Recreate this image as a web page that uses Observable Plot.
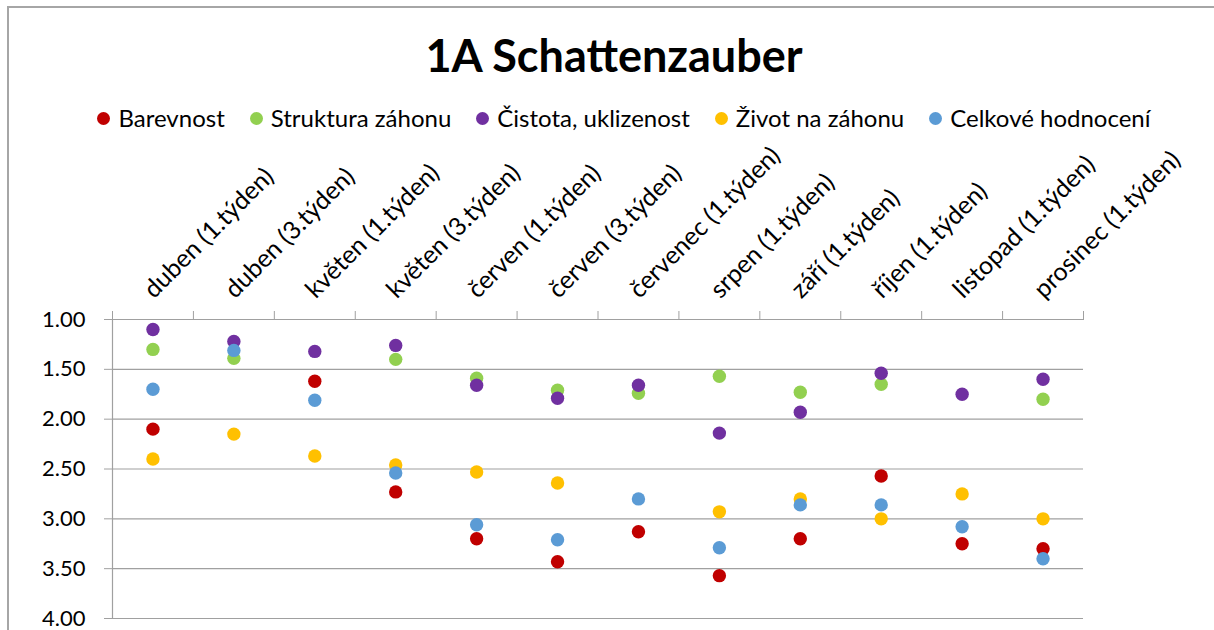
<!DOCTYPE html>
<html>
<head>
<meta charset="utf-8">
<script src="https://cdn.jsdelivr.net/npm/d3@7"></script>
<script src="https://cdn.jsdelivr.net/npm/@observablehq/plot@0.6"></script>
<style>
  html, body { margin: 0; padding: 0; width: 1214px; height: 630px; overflow: hidden; background: #fff; font-family: Lato, "Noto Sans", sans-serif; }
  #frame { position: absolute; left: 7px; top: 6px; width: 1300px; height: 700px; border-left: 2px solid #a6a6a6; border-top: 2px solid #a6a6a6; box-sizing: border-box; pointer-events: none; }
  #title { position: absolute; left: 0; top: 33px; width: 1228px; text-align: center; font-size: 45px; font-weight: bold; line-height: 1; color: #000; }
  #legend { position: absolute; left: 0; top: 103px; width: 1248px; display: flex; justify-content: center; gap: 25px; font-size: 24px; line-height: 30px; color: #000; }
  .item { display: flex; align-items: center; gap: 8px; }
  .sw { width: 13px; height: 13px; border-radius: 50%; display: inline-block; }
  #chart { position: absolute; left: 0; top: 136px; }
</style>
</head>
<body>
<div id="title">1A Schattenzauber</div>
<div id="legend"></div>
<div id="chart"></div>
<div id="frame"></div>
<script>
const categories = ["duben (1.týden)", "duben (3.týden)", "květen (1.týden)", "květen (3.týden)", "červen (1.týden)", "červen (3.týden)", "červenec (1.týden)", "srpen (1.týden)", "září (1.týden)", "říjen (1.týden)", "listopad (1.týden)", "prosinec (1.týden)"];
const series = ["Barevnost", "Struktura záhonu", "Čistota, uklizenost", "Život na záhonu", "Celkové hodnocení"];
const colors = ["#C00000", "#92D050", "#7030A0", "#FFC000", "#5B9BD5"];
const barevnost = [2.10, null, 1.62, 2.73, 3.20, 3.43, 3.13, 3.57, 3.20, 2.57, 3.25, 3.30];
const struktura = [1.30, 1.39, null, 1.40, 1.59, 1.71, 1.74, 1.57, 1.73, 1.65, null, 1.80];
const cistota = [1.10, 1.22, 1.32, 1.26, 1.66, 1.79, 1.66, 2.14, 1.93, 1.54, 1.75, 1.60];
const zivot = [2.40, 2.15, 2.37, 2.46, 2.53, 2.64, null, 2.93, 2.80, 3.00, 2.75, 3.00];
const celkove = [1.70, 1.31, 1.81, 2.54, 3.06, 3.21, 2.80, 3.29, 2.86, 2.86, 3.08, 3.40];
const yTicks = [1, 1.5, 2, 2.5, 3, 3.5, 4];

const values = [barevnost, struktura, cistota, zivot, celkove];
const rows = series.flatMap((s, k) => values[k].map((v, i) => ({series: s, i, v}))).filter(d => d.v != null);
const idx = d3.range(categories.length);
const edges = d3.range(-0.5, categories.length, 1);
const gray = "#a0a0a0";

const legend = document.getElementById("legend");
series.forEach((s, k) => {
  const it = document.createElement("div");
  it.className = "item";
  const sw = document.createElement("span");
  sw.className = "sw";
  sw.style.background = colors[k];
  const t = document.createElement("span");
  t.textContent = s;
  it.appendChild(sw); it.appendChild(t);
  legend.appendChild(it);
});

const chart = Plot.plot({
  width: 1214,
  height: 494,
  marginLeft: 112,
  marginRight: 131,
  marginTop: 183,
  marginBottom: 12,
  x: {domain: [-0.5, categories.length - 0.5], axis: null},
  y: {domain: [1, 4], reverse: true, axis: null},
  color: {domain: series, range: colors},
  style: {fontFamily: "Lato, 'Noto Sans', sans-serif", background: "transparent", color: "#000"},
  marks: [
    Plot.ruleY(yTicks, {stroke: gray, strokeWidth: 1.2}),
    Plot.ruleX([-0.5], {stroke: gray, strokeWidth: 1.2}),
    Plot.axisY({ticks: yTicks, tickFormat: d3.format(".2f"), tickSize: 8, tickPadding: 19, fontSize: 22, stroke: gray, fill: "#000", label: null}),
    Plot.axisX({anchor: "top", ticks: edges, tickSize: 9, tickFormat: () => "", stroke: gray, label: null}),
    Plot.text(idx, {x: d => d, text: i => categories[i], frameAnchor: "top", rotate: -45, textAnchor: "start", lineAnchor: "bottom", dx: 1, dy: -20, fontSize: 25, fill: "#000"}),
    Plot.dot(rows, {x: "i", y: "v", fill: "series", r: 6.7})
  ]
});
document.getElementById("chart").appendChild(chart);
</script>
</body>
</html>
